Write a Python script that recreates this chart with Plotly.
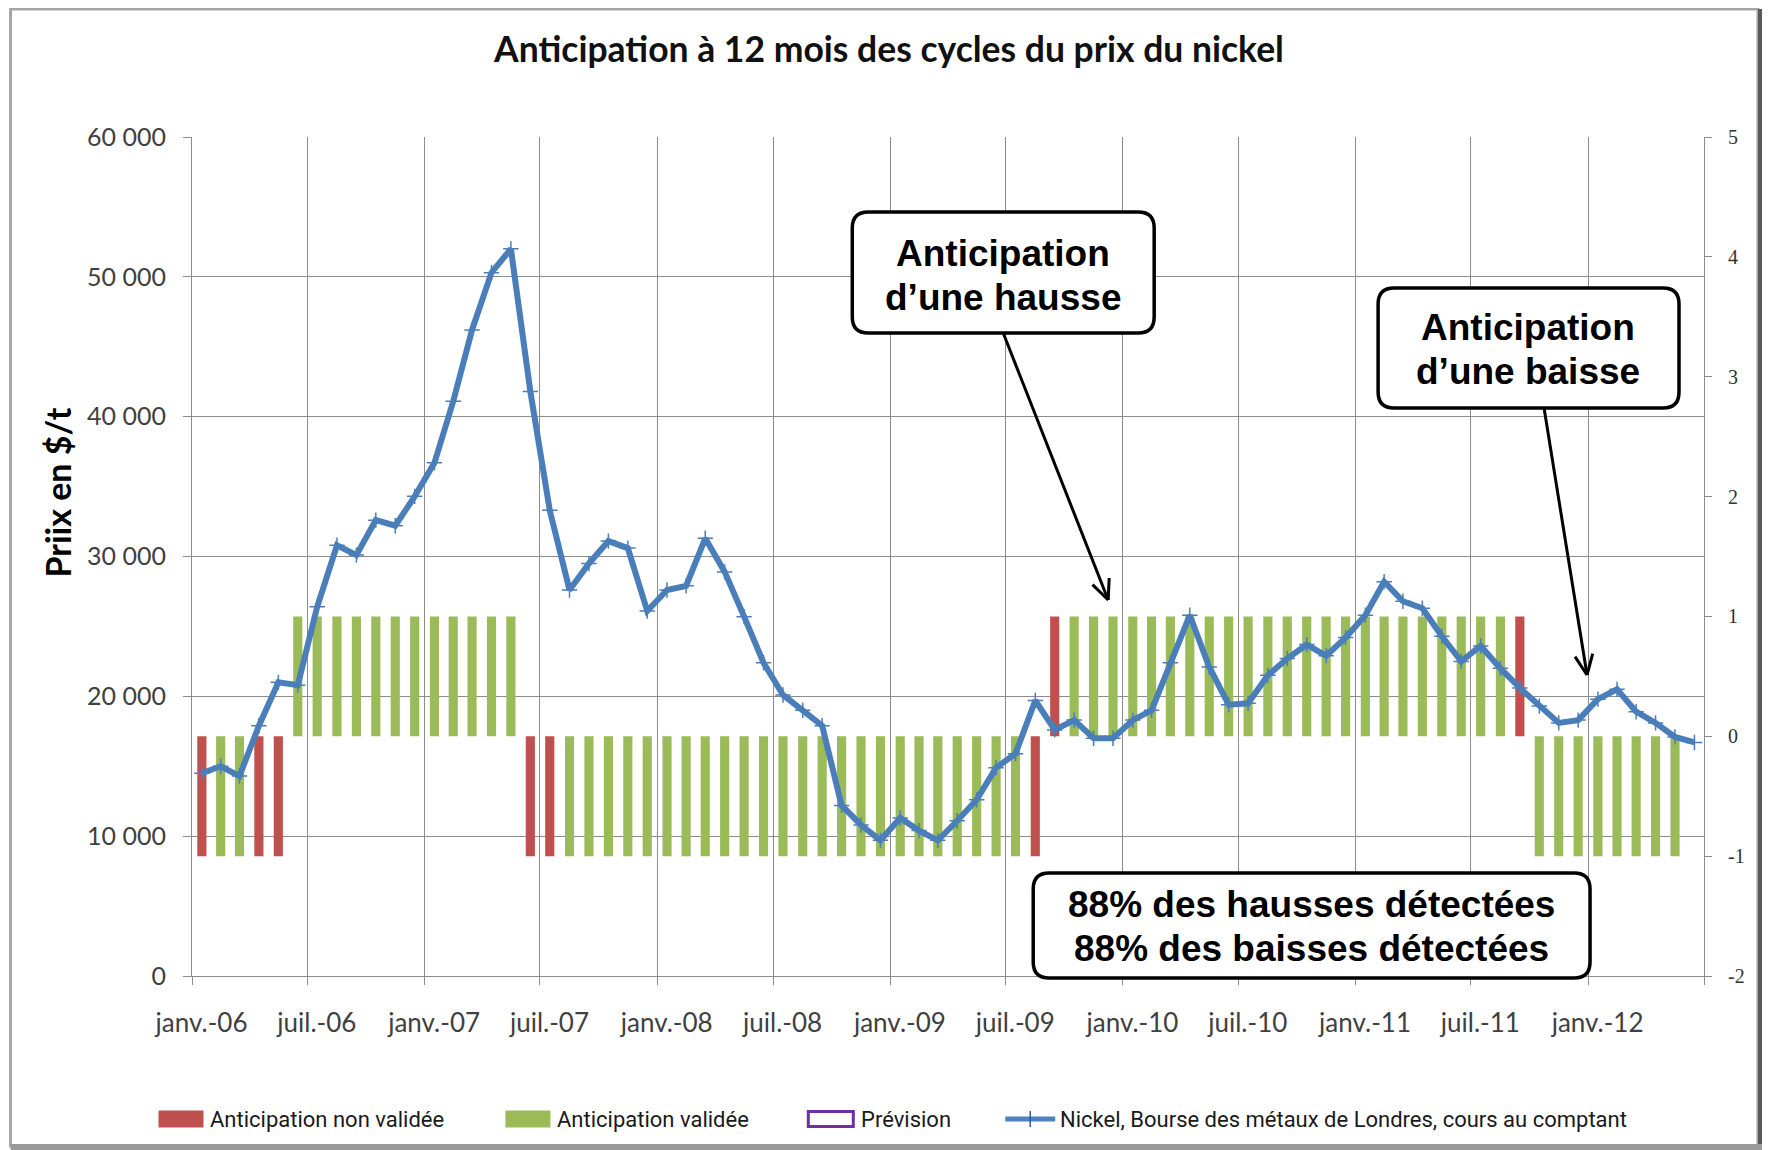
import math
import pandas as pd
import plotly.graph_objects as go

# ---------------- data ----------------
mois = pd.date_range("2006-01-01", periods=78, freq="MS").strftime("%Y-%m").tolist()

prix_nickel = [
    14500, 15000, 14300, 17900, 21000, 20800, 26400, 30800, 30100, 32600, 32200, 34300,
    36700, 41100, 46200, 50300, 52000, 41800, 33300, 27600, 29500, 31100, 30600, 26100,
    27600, 27900, 31300, 28900, 25700, 22400, 20100, 19000, 17900, 12200, 10800, 9700,
    11300, 10400, 9700, 11100, 12600, 14900, 15900, 19700, 17600, 18300, 17000, 17000,
    18300, 19000, 22400, 25800, 22100, 19400, 19500, 21500, 22700, 23700, 22900, 24200,
    25800, 28200, 26800, 26300, 24300, 22500, 23600, 22000, 20600, 19300, 18100, 18300,
    19800, 20500, 18900, 18100, 17100, 16700,
]

# +1 = hausse anticipée, -1 = baisse anticipée, 0 = pas de signal
anticipation = [
    -1, -1, -1, -1, -1, 1, 1, 1, 1, 1, 1, 1,
    1, 1, 1, 1, 1, -1, -1, -1, -1, -1, -1, -1,
    -1, -1, -1, -1, -1, -1, -1, -1, -1, -1, -1, -1,
    -1, -1, -1, -1, -1, -1, -1, -1, 1, 1, 1, 1,
    1, 1, 1, 1, 1, 1, 1, 1, 1, 1, 1, 1,
    1, 1, 1, 1, 1, 1, 1, 1, 1, -1, -1, -1,
    -1, -1, -1, -1, -1, 0,
]

# 1 = anticipation validée, 0 = non validée
validee = [
    0, 1, 1, 0, 0, 1, 1, 1, 1, 1, 1, 1,
    1, 1, 1, 1, 1, 0, 0, 1, 1, 1, 1, 1,
    1, 1, 1, 1, 1, 1, 1, 1, 1, 1, 1, 1,
    1, 1, 1, 1, 1, 1, 1, 0, 0, 1, 1, 1,
    1, 1, 1, 1, 1, 1, 1, 1, 1, 1, 1, 1,
    1, 1, 1, 1, 1, 1, 1, 1, 0, 1, 1, 1,
    1, 1, 1, 1, 1, 0,
]

grid_dates = ["2006-01-01", "2006-07-01", "2007-01-01", "2007-07-01", "2008-01-01",
              "2008-07-01", "2009-01-01", "2009-07-01", "2010-01-01", "2010-07-01",
              "2011-01-01", "2011-07-01", "2012-01-01", "2012-07-01"]
label_dates = ["2006-01-16", "2006-07-16", "2007-01-16", "2007-07-16", "2008-01-16",
               "2008-07-16", "2009-01-16", "2009-07-16", "2010-01-16", "2010-07-16",
               "2011-01-16", "2011-07-16", "2012-01-16"]
tick_labels = ["janv.-06", "juil.-06", "janv.-07", "juil.-07", "janv.-08", "juil.-08",
               "janv.-09", "juil.-09", "janv.-10", "juil.-10", "janv.-11", "juil.-11",
               "janv.-12"]
right_vals = [-2, -1, 0, 1, 2, 3, 4, 5]
right_labels = ["-2", "-1", "0", "1", "2", "3", "4", "5"]

legend_names = ["Anticipation non validée", "Anticipation validée", "Prévision",
                "Nickel, Bourse des métaux de Londres, cours au comptant"]

non_validee_y = [a if (a != 0 and v == 0) else None for a, v in zip(anticipation, validee)]
validee_y = [a if (a != 0 and v == 1) else None for a, v in zip(anticipation, validee)]

# ---------------- geometry helpers (window pixel coords -> paper) ----------------
OFF = 8                      # page body margin
W, H = 1762, 1142            # figure size
L, T = 183.5, 129
PW, PH = 1512.5, 839
R, B = W - L - PW, H - T - PH


def px(xw):
    return (xw - OFF - L) / PW


def py(yw):
    return (T + PH - (yw - OFF)) / PH


def rounded_box(x0, y0, x1, y1, r=16):
    pts = [
        f"M {px(x0 + r)} {py(y0)}",
        f"L {px(x1 - r)} {py(y0)}",
        f"Q {px(x1)} {py(y0)} {px(x1)} {py(y0 + r)}",
        f"L {px(x1)} {py(y1 - r)}",
        f"Q {px(x1)} {py(y1)} {px(x1 - r)} {py(y1)}",
        f"L {px(x0 + r)} {py(y1)}",
        f"Q {px(x0)} {py(y1)} {px(x0)} {py(y1 - r)}",
        f"L {px(x0)} {py(y0 + r)}",
        f"Q {px(x0)} {py(y0)} {px(x0 + r)} {py(y0)}",
        "Z",
    ]
    return dict(type="path", xref="paper", yref="paper", path=" ".join(pts),
                line=dict(color="black", width=3.5), fillcolor="white", layer="above")


def arrow(x0, y0, x1, y1, head=22, ang=24):
    shapes = [dict(type="line", xref="paper", yref="paper",
                   x0=px(x0), y0=py(y0), x1=px(x1), y1=py(y1),
                   line=dict(color="black", width=3), layer="above")]
    th = math.atan2(y1 - y0, x1 - x0)
    for s in (-1, 1):
        a = th + math.pi + s * math.radians(ang)
        hx, hy = x1 + head * math.cos(a), y1 + head * math.sin(a)
        shapes.append(dict(type="line", xref="paper", yref="paper",
                           x0=px(x1), y0=py(y1), x1=px(hx), y1=py(hy),
                           line=dict(color="black", width=3), layer="above"))
    return shapes


def rect(x0, y0, x1, y1, fill, line_color=None, lw=0):
    return dict(type="rect", xref="paper", yref="paper",
                x0=px(x0), y0=py(y0), x1=px(x1), y1=py(y1),
                fillcolor=fill, line=dict(color=line_color or fill, width=lw), layer="above")


# ---------------- figure ----------------
RED, GREEN, BLUE, PURPLE = "#C0504D", "#9BBB59", "#4A7EBB", "#7030A0"
fig = go.Figure()
bar_w = 1.24e9
fig.add_trace(go.Bar(
    x=mois, y=non_validee_y, name=legend_names[0], yaxis="y",
    xperiod="M1", xperiodalignment="middle", width=bar_w,
    marker=dict(color=RED, line=dict(width=0)),
))
fig.add_trace(go.Bar(
    x=mois, y=validee_y, name=legend_names[1], yaxis="y",
    xperiod="M1", xperiodalignment="middle", width=bar_w,
    marker=dict(color=GREEN, line=dict(width=0)),
))
fig.add_trace(go.Scatter(
    x=mois, y=prix_nickel, name=legend_names[3],
    yaxis="y2", xperiod="M1", xperiodalignment="middle", mode="lines+markers",
    line=dict(color=BLUE, width=6),
    marker=dict(symbol="cross-thin-open", size=11, line=dict(color="#2E5C94", width=1.5)),
))

grid = "#8C8C8C"
shapes = []
# outer chart frame
shapes.append(dict(type="rect", xref="paper", yref="paper",
                   x0=px(10), y0=py(9), x1=px(1758), y1=py(1146),
                   line=dict(color="#A6A6A6", width=3), fillcolor="rgba(0,0,0,0)", layer="below"))
shapes.append(dict(type="rect", xref="paper", yref="paper",
                   x0=px(1758), y0=py(9), x1=px(1768), y1=py(1150),
                   line=dict(width=0), fillcolor="#5A5A5A", layer="below"))
shapes.append(dict(type="rect", xref="paper", yref="paper",
                   x0=px(10), y0=py(1144), x1=px(1768), y1=py(1150),
                   line=dict(width=0), fillcolor="#9A9A9A", layer="below"))

# annotation boxes
shapes.append(rounded_box(852, 212, 1154, 333))
shapes.append(rounded_box(1378, 288, 1679, 408))
shapes.append(rounded_box(1033, 873, 1590, 978))
shapes += arrow(1003, 333, 1108, 600)
shapes += arrow(1544, 408, 1587, 675)

# legend (drawn manually to match spacing)
LY = 1119
shapes.append(rect(158, LY - 8.5, 203, LY + 8.5, RED))
shapes.append(rect(505, LY - 8.5, 550, LY + 8.5, GREEN))
shapes.append(rect(808, LY - 7.5, 853, LY + 7.5, "white", PURPLE, 3))
shapes.append(dict(type="line", xref="paper", yref="paper", x0=px(1005), y0=py(LY),
                   x1=px(1055), y1=py(LY), line=dict(color="#4F81BD", width=5), layer="above"))
shapes.append(dict(type="line", xref="paper", yref="paper", x0=px(1030), y0=py(LY - 8),
                   x1=px(1030), y1=py(LY + 8), line=dict(color="#2E5C94", width=1.5), layer="above"))

box_font = dict(family="Liberation Sans, Arial, sans-serif", size=37, color="black")
leg_font = dict(family="Roboto, sans-serif", size=22, color="#1a1a1a")


def label(x, y, text, font, xanchor="center", angle=0):
    return dict(xref="paper", yref="paper", x=px(x), y=py(y), xanchor=xanchor,
                yanchor="middle", showarrow=False, text=text, font=font, textangle=angle)


annotations = [
    label(1003, 253, "<b>Anticipation</b>", box_font),
    label(1003, 297, "<b>d’une hausse</b>", box_font),
    label(1528, 327, "<b>Anticipation</b>", box_font),
    label(1528, 371, "<b>d’une baisse</b>", box_font),
    label(1311, 904, "<b>88% des hausses détectées</b>", box_font),
    label(1311, 948, "<b>88% des baisses détectées</b>", box_font),
    label(56, 493, "<b>Priix en $/t</b>",
          dict(family="Lato, Calibri, sans-serif", size=34, color="black"), angle=-90),
    label(208, LY, legend_names[0], leg_font, "left"),
    label(555, LY, legend_names[1], leg_font, "left"),
    label(859, LY, legend_names[2], leg_font, "left"),
    label(1058, LY, legend_names[3], leg_font, "left"),
]

fig.update_layout(
    width=W, height=H,
    margin=dict(l=L, r=R, t=T, b=B, autoexpand=False),
    paper_bgcolor="white", plot_bgcolor="white",
    separators=", ",
    barmode="overlay",
    showlegend=False,
    title=dict(text="<b>Anticipation à 12 mois des cycles du prix du nickel</b>",
               x=0.5, xanchor="center", y=1 - (50 - OFF) / H, yanchor="middle",
               font=dict(family="Lato, Calibri, sans-serif", size=35.5, color="#111111")),
    xaxis=dict(
        type="date", range=["2006-01-01", "2012-07-01"],
        tickvals=label_dates, ticktext=tick_labels,
        showgrid=False,
        showline=True, linecolor=grid, linewidth=1,
        ticks="outside", ticklen=8, tickcolor="rgba(0,0,0,0)",
        ticklabelstandoff=16,
        tickfont=dict(family="Lato, Calibri, sans-serif", size=26, color="#404040"),
        minor=dict(tickvals=grid_dates, showgrid=True, gridcolor=grid, gridwidth=1,
                   ticks="outside", ticklen=8, tickcolor=grid),
    ),
    yaxis=dict(
        side="right", range=[-2, 5], tickvals=right_vals, ticktext=right_labels,
        showgrid=False, zeroline=False,
        showline=True, linecolor=grid, linewidth=1,
        ticks="outside", ticklen=7, tickcolor=grid, ticklabelstandoff=12,
        tickfont=dict(family="Liberation Serif, Times New Roman, serif", size=20, color="#333333"),
    ),
    yaxis2=dict(
        overlaying="y", side="left", range=[0, 60000], dtick=10000, tickformat=",d",
        showgrid=True, gridcolor=grid, gridwidth=1, zeroline=False,
        showline=True, linecolor=grid, linewidth=1,
        ticks="outside", ticklen=8, tickcolor=grid, ticklabelstandoff=12,
        tickfont=dict(family="Lato, Calibri, sans-serif", size=25, color="#404040"),
    ),
    shapes=shapes,
    annotations=annotations,
)

fig.write_html("out.html")
